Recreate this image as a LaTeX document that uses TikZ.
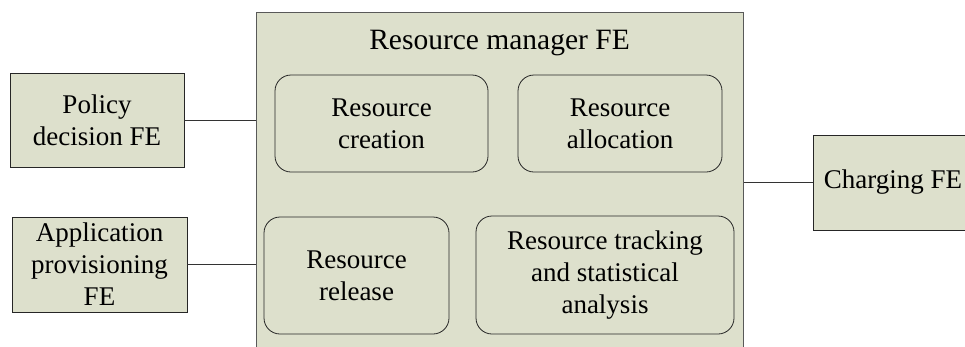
\documentclass[tikz,border=0pt]{standalone}
\usepackage{fontspec}
\setmainfont{Liberation Serif}
\definecolor{feverde}{RGB}{221,224,204}
\tikzset{
  febox/.style={draw=black!85, fill=feverde, line width=0.8pt, align=center,
    inner sep=0pt, font=\fontsize{27}{32}\selectfont},
  funcbox/.style={febox, rounded corners=16pt},
  link/.style={draw=black!80, line width=0.8pt}
}
\begin{document}
\begin{tikzpicture}[x=1pt, y=-1pt]
			\useasboundingbox (0, 0) rectangle (965, 346);
			\clip (0, 0) rectangle (965, 346);
			% blocco principale
			\node[febox, draw=black!65, anchor=north west, minimum width=487pt, minimum height=360pt] (rm) at (256, 12) {};
			\node[font=\fontsize{29.5}{32}\selectfont] (rmtitle) at (499.5, 43) {Resource manager FE};
			% funzioni interne
			\node[funcbox, minimum width=213pt, minimum height=97pt] (creation) at (381.5, 123.5) {Resource\\creation};
			\node[funcbox, minimum width=204pt, minimum height=97pt] (allocation) at (620, 123.5) {Resource\\allocation};
			\node[funcbox, minimum width=185pt, minimum height=117pt] (release) at (356.5, 275.5) {Resource\\release};
			\node[funcbox, minimum width=258pt, minimum height=118pt] (tracking) at (605, 275) {Resource tracking\\and statistical\\analysis};
			% FE esterne
			\node[febox, minimum width=174pt, minimum height=94pt] (policy) at (97, 120) {Policy\\decision FE};
			\node[febox, minimum width=175pt, minimum height=95pt] (appprov) at (99.5, 264.5) {Application\\provisioning\\FE};
			\node[febox, minimum width=160pt, minimum height=95pt] (charging) at (893, 182.5) {Charging FE};
			% collegamenti
			\draw[link] (policy.east) -- (policy.east -| rm.west);
			\draw[link] (appprov.east) -- (appprov.east -| rm.west);
			\draw[link] (charging.west) -- (charging.west -| rm.east);
		\end{tikzpicture}
\end{document}
